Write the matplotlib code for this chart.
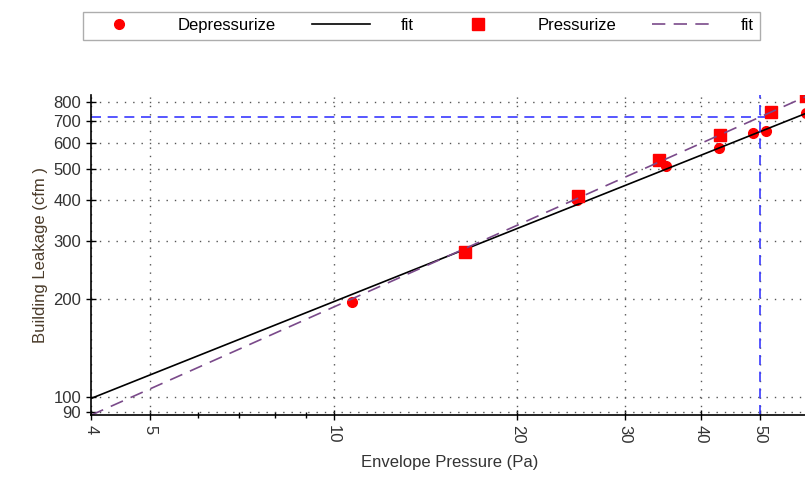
import matplotlib
matplotlib.use("Agg")
import matplotlib.pyplot as plt
from matplotlib.ticker import FixedLocator, NullFormatter

plt.rcParams['font.family'] = ['Liberation Sans', 'DejaVu Sans']

# depressurize test points (Pa, cfm)
dep_p = [10.7, 25.1, 35.1, 42.8, 48.7, 51.2, 59.5]
dep_q = [195, 400, 508, 577, 642, 651, 740]

# pressurize test points (Pa, cfm)
pre_p = [16.4, 25.2, 34.1, 43.0, 52.1, 59.5]
pre_q = [278, 412, 531, 633, 744, 835]

# fit lines (end points, straight on log-log)
fit_p = [4, 60]
dep_fit_q = [99, 743]
pre_fit_q = [88, 837]

# leakage at 50 Pa marker
ref_p = 50
ref_q = 720

xticks = [4, 5, 10, 20, 30, 40, 50, 60]
xminor = [6, 7, 8, 9]
yticks = [90, 100, 200, 300, 400, 500, 600, 700, 800]

fig = plt.figure(figsize=(8.05, 4.8), dpi=100)
ax = fig.add_axes([0.113, 0.135, 0.891, 0.667])

ax.set_xscale('log')
ax.set_yscale('log')
ax.set_xlim(4, 60)
ax.set_ylim(88, 840)

h1, = ax.plot(dep_p, dep_q, 'o', color='#ff0000', ms=7, ls='none', clip_on=True)
h2, = ax.plot(fit_p, dep_fit_q, '-', color='black', lw=1.2)
h3, = ax.plot(pre_p, pre_q, 's', color='#ff0000', ms=8, ls='none', clip_on=True)
h4, = ax.plot(fit_p, pre_fit_q, color='#7a4a8a', lw=1.2, dashes=(8, 5))

# 50 Pa crosshair
ax.plot([4, 51], [ref_q, ref_q], color='#3a3aff', lw=1.2, dashes=(6, 4))
ax.axvline(ref_p, color='#3a3aff', lw=1.2, dashes=(6, 4))

ax.xaxis.set_major_locator(FixedLocator(xticks))
ax.xaxis.set_minor_locator(FixedLocator(xminor))
ax.xaxis.set_minor_formatter(NullFormatter())
ax.set_xticklabels([str(t) for t in xticks], rotation=-90)
ax.yaxis.set_major_locator(FixedLocator(yticks))
ax.yaxis.set_minor_locator(FixedLocator([]))
ax.set_yticklabels([str(t) for t in yticks])

ax.tick_params(which='major', direction='inout', length=7, width=1, labelsize=12, labelcolor='#333333')
ax.tick_params(which='minor', direction='inout', length=5, width=1)

ax.grid(True, which='major', color='#555555', linestyle=(0, (1, 5)), lw=1)

for s in ['top', 'right']:
    ax.spines[s].set_visible(False)
for s in ['left', 'bottom']:
    ax.spines[s].set_linewidth(1.2)

ax.set_xlabel('Envelope Pressure (Pa)', fontsize=12, color='#333333', labelpad=8)
ax.set_ylabel('Building Leakage (cfm )', fontsize=12, color='#4a3b2a', labelpad=4)

leg = fig.legend([h1, h2, h3, h4], ['Depressurize', 'fit', 'Pressurize', 'fit'],
                 ncol=4, loc='lower left',
                 bbox_to_anchor=(83 / 805, 1 - 40 / 480, 677 / 805, 35 / 480),
                 mode='expand', fontsize=12, frameon=True, fancybox=False,
                 handlelength=3.5, handletextpad=1.8, borderaxespad=0,
                 columnspacing=2.0)
leg.get_frame().set_edgecolor('#999999')
leg.get_frame().set_linewidth(1)

fig.savefig('out.png', dpi=100)
